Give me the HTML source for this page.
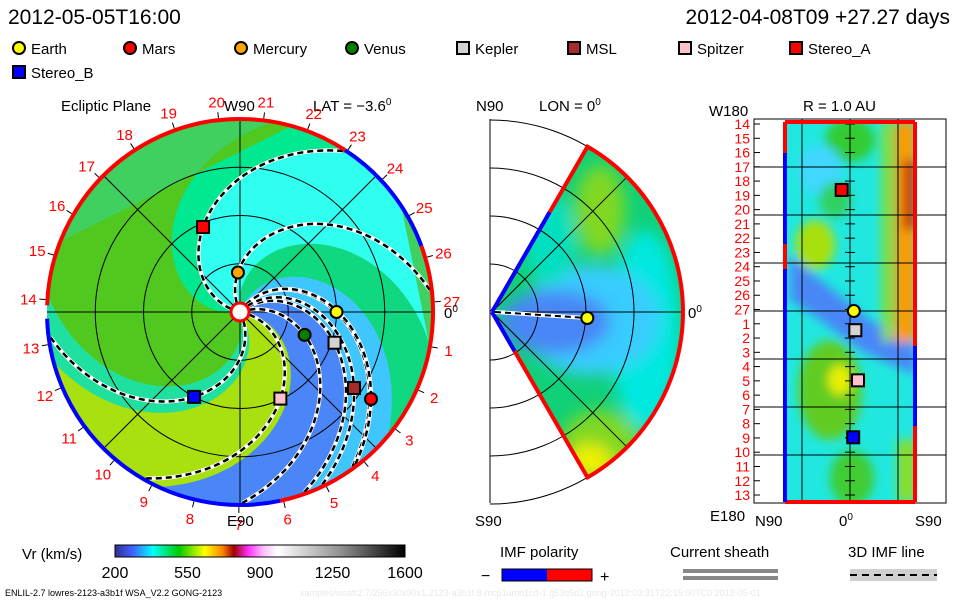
<!DOCTYPE html>
<html><head><meta charset="utf-8">
<style>
html,body{margin:0;padding:0;background:#fff;}
svg{display:block;font-family:"Liberation Sans",sans-serif;}
text{font-family:"Liberation Sans",sans-serif;}
</style></head>
<body>
<svg id="root" width="960" height="600" viewBox="0 0 960 600" xmlns="http://www.w3.org/2000/svg">
<defs>
  <clipPath id="diskClip"><circle cx="240" cy="312" r="193"/></clipPath>
  <clipPath id="wedgeClip"><path d="M492,312 L587.5,146.6 A191,191 0 0 1 587.5,477.4 Z"/></clipPath>
  <clipPath id="rectClip"><rect x="785" y="122" width="130" height="380"/></clipPath>
  <filter id="blur8"><feGaussianBlur stdDeviation="8"/></filter>
  <filter id="blur5"><feGaussianBlur stdDeviation="5"/></filter>
  <linearGradient id="cbar" x1="0" x2="1" y1="0" y2="0">
    <stop offset="0" stop-color="#303090"/>
    <stop offset="0.06" stop-color="#4060ff"/>
    <stop offset="0.13" stop-color="#00ffff"/>
    <stop offset="0.22" stop-color="#00cc00"/>
    <stop offset="0.31" stop-color="#ffff00"/>
    <stop offset="0.37" stop-color="#ff8800"/>
    <stop offset="0.41" stop-color="#a00000"/>
    <stop offset="0.46" stop-color="#ff30ff"/>
    <stop offset="0.51" stop-color="#ffbbff"/>
    <stop offset="0.56" stop-color="#ffffff"/>
    <stop offset="0.78" stop-color="#909090"/>
    <stop offset="1" stop-color="#000000"/>
  </linearGradient>
</defs>

<text x="8" y="24" font-size="21">2012-05-05T16:00</text>
<text x="950" y="24" font-size="21" text-anchor="end">2012-04-08T09 +27.27 days</text>

<g id="legend"></g>

<text x="61" y="111" font-size="15">Ecliptic Plane</text>
<text x="313" y="111" font-size="15">LAT = −3.6<tspan dy="-6" font-size="10">0</tspan></text>
<text x="476" y="111" font-size="15">N90</text>
<text x="539" y="111" font-size="15">LON = 0<tspan dy="-6" font-size="10">0</tspan></text>
<text x="709" y="116" font-size="15">W180</text>
<text x="803" y="111" font-size="15">R = 1.0 AU</text>

<g id="ecliptic"></g>
<g id="meridional"></g>
<g id="sphere"></g>

<text x="22" y="559" font-size="15">Vr (km/s)</text>
<rect x="115" y="545" width="290" height="12" fill="url(#cbar)" stroke="#000" stroke-width="1"/>
<g id="cbarTicks"></g>

<text x="500" y="557" font-size="15">IMF polarity</text>
<text x="481" y="581" font-size="16">−</text>
<rect x="502" y="569" width="45" height="12" fill="#0000ff"/>
<rect x="547" y="569" width="45" height="12" fill="#ff0000"/>
<rect x="502" y="569" width="90" height="12" fill="none" stroke="#000" stroke-width="1"/>
<text x="600" y="582" font-size="16">+</text>

<text x="670" y="557" font-size="15">Current sheath</text>
<rect x="683" y="569" width="95" height="4" fill="#888"/>
<rect x="683" y="576" width="95" height="4" fill="#888"/>

<text x="848" y="557" font-size="15">3D IMF line</text>
<rect x="850" y="569" width="87" height="12" fill="#d0d0d0"/>
<line x1="850" y1="575" x2="937" y2="575" stroke="#000" stroke-width="2" stroke-dasharray="7,5"/>

<text x="5" y="596" font-size="9">ENLIL-2.7 lowres-2123-a3b1f WSA_V2.2 GONG-2123</text>
<text x="300" y="596" font-size="9" fill="#e8e8e8">xamples/wsafr2.7/256x30x90x1.2123-a3b1f.8-mcp1umn1cd-1.g53q5d2.gong-2012:03:31T22:15:00TC0    2012-05-01</text>
</svg>

<script>
// ---- data ----
const bodyNames  = ["Earth","Mars","Mercury","Venus","Kepler","MSL","Spitzer","Stereo_A","Stereo_B"];
const bodyColors = ["#ffff00","#ff0000","#ffa500","#008000","#d3d3d3","#a52a2a","#ffc0cb","#ff0000","#0000ff"];
const bodyShapes = ["circle","circle","circle","circle","square","square","square","square","square"];
const bodyRadiusAU = [1.00, 1.63, 0.41, 0.71, 1.03, 1.42, 0.99, 0.96, 1.00];
const bodyLonDeg   = [0, -33.6, 93, -19.5, -18, -33.7, -65, 113.5, -118.4];
const bodyLatDeg   = [-3.6, 1, 2, 1, -5, -2, -7.5, 7.8, -3];
const bandEdgesDeg = [-60, -15, 15, 45, 110, 135, 230, 250, 300];
const bandColors   = ["#4a86f7","#3fc6ff","#10d880","#30fff0","#00e890","#50c820","#20e0a0","#a8e010"];
const rimPolarityStart = [57, 20, -78, 182];
const rimPolarityEnd   = [178, 57, 20, 282];
const rimPolaritySign  = [1, -1, 1, -1];
const carringtonLabels = [1,2,3,4,5,6,7,8,9,10,11,12,13,14,15,16,17,18,19,20,21,22,23,24,25,26,27];
const colorbarTicks = [200, 550, 900, 1250, 1600];
const spiralDegPerAU = 55;

const NS = "http://www.w3.org/2000/svg";
function mk(tag, attrs, parent){
  const e = document.createElementNS(NS, tag);
  for (const k in attrs) e.setAttribute(k, attrs[k]);
  if (parent) parent.appendChild(e);
  return e;
}
const D2R = Math.PI/180;
const CX = 240, CY = 312, AU = 96.5;
const ex = (r,d) => CX + r*AU*Math.cos(d*D2R);
const ey = (r,d) => CY - r*AU*Math.sin(d*D2R);
const MX = 492, MY = 312, MAU = 95.5;
const sx = lat => 850 - lat*192/180;
const sy = lon => 311 - lon*384/360;

function marker(parent, i, x, y, name){
  let e;
  if (bodyShapes[i] === "circle") {
    e = mk("circle", {cx:x, cy:y, r:6, fill:bodyColors[i], stroke:"#000", "stroke-width":2}, parent);
  } else {
    e = mk("rect", {x:x-6, y:y-6, width:12, height:12, fill:bodyColors[i], stroke:"#000", "stroke-width":2}, parent);
  }
  
  
  return e;
}

// ---- legend ----
const legend = document.getElementById("legend");
bodyNames.forEach((n,i) => {
  const row = i < 8 ? 0 : 1;
  const col = i < 8 ? i : 0;
  const x = 19 + col*111, y = 48 + row*24;
  marker(legend, i, x, y, 'legend-marker-' + n.toLowerCase());
  const t = mk("text", {x:x+12, y:y+6, "font-size":15}, legend);
  t.textContent = n;
  
  
});

// ---- ecliptic panel ----
const ecl = document.getElementById("ecliptic");
const disk = mk("g", {"clip-path":"url(#diskClip)"}, ecl);
mk("circle", {cx:CX, cy:CY, r:193, fill:"#40d060"}, disk);
for (let b = 0; b < bandColors.length; b++) {
  const a0 = bandEdgesDeg[b], a1 = bandEdgesDeg[b+1];
  const pts = [];
  for (let r = 0; r <= 2.2; r += 0.05) { const p = a0 + spiralDegPerAU*(1-r); pts.push(ex(r,p).toFixed(1)+","+ey(r,p).toFixed(1)); }
  for (let r = 2.2; r >= 0; r -= 0.05) { const p = a1 + spiralDegPerAU*(1-r); pts.push(ex(r,p).toFixed(1)+","+ey(r,p).toFixed(1)); }
  const poly = mk("polygon", {points:pts.join(" "), fill:bandColors[b]}, disk);
  
  
}
[0.5,1,1.5].forEach(r => {
  const c = mk("circle", {cx:CX, cy:CY, r:r*AU, fill:"none", stroke:"#000", "stroke-width":1}, ecl);
  
  
});
[0,45,90,135].forEach(d => {
  const l = mk("line", {x1:ex(2,d), y1:ey(2,d), x2:ex(2,d+180), y2:ey(2,d+180), stroke:"#000", "stroke-width":1}, ecl);
  
  
});
bodyNames.forEach((n,i) => {
  const pts = [];
  for (let r = 0.1; r <= 2.0; r += 0.04) { const p = bodyLonDeg[i] + spiralDegPerAU*(bodyRadiusAU[i]-r); pts.push(ex(r,p).toFixed(1)+","+ey(r,p).toFixed(1)); }
  const g = mk("g", {"clip-path":"url(#diskClip)"}, ecl);
  mk("polyline", {points:pts.join(" "), fill:"none", stroke:"#fff", "stroke-width":4}, g);
  const pl = mk("polyline", {points:pts.join(" "), fill:"none", stroke:"#000", "stroke-width":2.5, "stroke-dasharray":"6,4"}, g);
  
  
});
rimPolarityStart.forEach((s,i) => {
  const e = rimPolarityEnd[i], R = 193;
  const large = (e - s) > 180 ? 1 : 0;
  const d = `M${ex(R/AU,s)},${ey(R/AU,s)} A${R},${R} 0 ${large} 0 ${ex(R/AU,e)},${ey(R/AU,e)}`;
  const p = mk("path", {d, fill:"none", stroke: rimPolaritySign[i] > 0 ? "#ff0000" : "#0000ff", "stroke-width":4}, ecl);
  
  
});
carringtonLabels.forEach(k => {
  const a = 3 - k*360/27;
  mk("line", {x1:ex(195/AU,a), y1:ey(195/AU,a), x2:ex(201/AU,a), y2:ey(201/AU,a), stroke:"#000", "stroke-width":1}, ecl);
  const t = mk("text", {x:ex(212/AU,a), y:ey(212/AU,a)+6, "font-size":15, fill:"#ff0000", "text-anchor":"middle"}, ecl);
  t.textContent = k;
  
  
});
const sun = mk("circle", {cx:CX, cy:CY, r:9, fill:"#fff", stroke:"#ff0000", "stroke-width":3}, ecl);


bodyNames.forEach((n,i) => marker(ecl, i, ex(bodyRadiusAU[i], bodyLonDeg[i]), ey(bodyRadiusAU[i], bodyLonDeg[i]), 'ecliptic-body-' + n.toLowerCase()));
[["W90",224,111,"w90-label"],["E90",227,526,"e90-label"]].forEach(v => {
  const t = mk("text", {x:v[1], y:v[2], "font-size":15}, ecl); t.textContent = v[0];
  
  
});
const z0 = mk("text", {x:444, y:318, "font-size":15}, ecl);
z0.innerHTML = '0<tspan dy="-6" font-size="10">0</tspan>';



// ---- meridional panel ----
const mer = document.getElementById("meridional");
const wedge = mk("g", {"clip-path":"url(#wedgeClip)"}, mer);
mk("rect", {x:480, y:130, width:220, height:360, fill:"#10d078"}, wedge);
const mb = mk("g", {filter:"url(#blur8)"}, wedge);
mk("ellipse", {cx:645, cy:330, rx:35, ry:100, fill:"#00e8e0"}, mb);
mk("ellipse", {cx:590, cy:320, rx:70, ry:55, fill:"#38ccff"}, mb);
mk("ellipse", {cx:555, cy:322, rx:55, ry:32, fill:"#4a86f7"}, mb);
mk("ellipse", {cx:600, cy:210, rx:25, ry:45, fill:"#80d820"}, mb);
mk("ellipse", {cx:600, cy:445, rx:40, ry:35, fill:"#80d820"}, mb);
mk("ellipse", {cx:590, cy:462, rx:22, ry:18, fill:"#f0f000"}, mb);
mk("ellipse", {cx:550, cy:240, rx:25, ry:45, fill:"#00e0c0"}, mb);
[48,96,144,192].forEach(r => {
  const c = mk("path", {d:`M${MX-2},${MY-r} A${r},${r} 0 0 1 ${MX-2},${MY+r}`, fill:"none", stroke:"#000", "stroke-width":1}, mer);
  
  
});
[45,0,-45].forEach(d => {
  mk("line", {x1:MX, y1:MY, x2:MX+191*Math.cos(d*D2R), y2:MY-191*Math.sin(d*D2R), stroke:"#000", "stroke-width":1}, mer);
});
mk("line", {x1:490, y1:119, x2:490, y2:503, stroke:"#000", "stroke-width":1}, mer);
mk("path", {d:`M${MX},${MY} L587.5,146.6 A191,191 0 0 1 587.5,477.4 L${MX},${MY}`, fill:"none", stroke:"#ff0000", "stroke-width":4}, mer);
mk("line", {x1:MX, y1:MY, x2:MX+115*Math.cos(60*D2R), y2:MY-115*Math.sin(60*D2R), stroke:"#0000ff", "stroke-width":4}, mer);
mk("line", {x1:MX, y1:MY, x2:MX+45*Math.cos(-60*D2R), y2:MY-45*Math.sin(-60*D2R), stroke:"#0000ff", "stroke-width":4}, mer);
bodyNames.forEach((n,i) => {
  if (Math.abs(bodyLonDeg[i]) < 5) {
    const x = MX + bodyRadiusAU[i]*MAU*Math.cos(bodyLatDeg[i]*D2R), y = MY - bodyRadiusAU[i]*MAU*Math.sin(bodyLatDeg[i]*D2R);
    mk("line", {x1:MX+3, y1:MY, x2:x, y2:y, stroke:"#fff", "stroke-width":4}, mer);
    mk("line", {x1:MX+3, y1:MY, x2:x, y2:y, stroke:"#000", "stroke-width":2, "stroke-dasharray":"6,4"}, mer);
    marker(mer, i, x, y, 'meridional-body-' + n.toLowerCase());
  }
});
const mz = mk("text", {x:688, y:318, "font-size":15}, mer);
mz.innerHTML = '0<tspan dy="-6" font-size="10">0</tspan>';


const s90 = mk("text", {x:475, y:526, "font-size":15}, mer); s90.textContent = "S90";



// ---- r = 1 AU panel ----
const sph = document.getElementById("sphere");
const sg = mk("g", {"clip-path":"url(#rectClip)"}, sph);
mk("rect", {x:785, y:122, width:130, height:380, fill:"#20e8e0"}, sg);
const sb = mk("g", {filter:"url(#blur5)"}, sg);
mk("ellipse", {cx:850, cy:140, rx:25, ry:22, fill:"#30cc30"}, sb);
mk("ellipse", {cx:820, cy:170, rx:22, ry:25, fill:"#40d8ff"}, sb);
mk("ellipse", {cx:815, cy:245, rx:20, ry:25, fill:"#a8e010"}, sb);
mk("ellipse", {cx:835, cy:200, rx:16, ry:18, fill:"#30d060"}, sb);
mk("polygon", {points:"790,255 820,280 870,320 915,345 915,375 860,350 820,320 790,300", fill:"#4a86f7"}, sb);
mk("ellipse", {cx:830, cy:390, rx:32, ry:50, fill:"#60cc20"}, sb);
mk("ellipse", {cx:840, cy:380, rx:12, ry:15, fill:"#e8f000"}, sb);
mk("ellipse", {cx:852, cy:478, rx:22, ry:28, fill:"#40cc30"}, sb);
mk("rect", {x:895, y:122, width:20, height:220, fill:"#ff9900"}, sb);
mk("rect", {x:903, y:160, width:12, height:70, fill:"#d03000"}, sb);
mk("rect", {x:882, y:122, width:10, height:220, fill:"#90dc20"}, sb);
mk("rect", {x:898, y:440, width:17, height:62, fill:"#90dc20"}, sb);
mk("rect", {x:754, y:119, width:192, height:384, fill:"none", stroke:"#000", "stroke-width":1}, sph);
[802,850,898].forEach(x => mk("line", {x1:x, y1:119, x2:x, y2:503, stroke:"#000", "stroke-width":1}, sph));
[167,215,263,311,359,407,455].forEach(y => mk("line", {x1:754, y1:y, x2:946, y2:y, stroke:"#000", "stroke-width":1}, sph));
const lonLabels = [14,15,16,17,18,19,20,21,22,23,24,25,26,27,1,2,3,4,5,6,7,8,9,10,11,12,13];
lonLabels.forEach((k,j) => {
  const y = 124 + j*14.27;
  mk("line", {x1:754, y1:y, x2:760, y2:y, stroke:"#000", "stroke-width":1}, sph);
  mk("line", {x1:845, y1:y, x2:855, y2:y, stroke:"#000", "stroke-width":1}, sph);
  const t = mk("text", {x:750, y:y+5, "font-size":14, fill:"#ff0000", "text-anchor":"end"}, sph);
  t.textContent = k;
  
  
});
mk("line", {x1:785, y1:122, x2:915, y2:122, stroke:"#ff0000", "stroke-width":4}, sph);
mk("line", {x1:785, y1:502, x2:915, y2:502, stroke:"#ff0000", "stroke-width":4}, sph);
[[122,153,"#ff0000"],[153,244,"#0000ff"],[244,269,"#ff0000"],[269,502,"#0000ff"]].forEach(s => mk("line", {x1:785, y1:s[0], x2:785, y2:s[1], stroke:s[2], "stroke-width":4}, sph));
[[122,346,"#ff0000"],[346,426,"#0000ff"],[426,502,"#ff0000"]].forEach(s => mk("line", {x1:915, y1:s[0], x2:915, y2:s[1], stroke:s[2], "stroke-width":4}, sph));
bodyNames.forEach((n,i) => {
  if (Math.abs(bodyRadiusAU[i] - 1) < 0.06) marker(sph, i, sx(bodyLatDeg[i]), sy(bodyLonDeg[i]), 'map-body-' + n.toLowerCase());
});
[["E180",710,521,"e180-label"],["N90",755,526,"map-n90-label"],["S90",915,526,"map-s90-label"]].forEach(v => {
  const t = mk("text", {x:v[1], y:v[2], "font-size":15}, sph); t.textContent = v[0];
  
  
});
const sz = mk("text", {x:839, y:526, "font-size":15}, sph);
sz.innerHTML = '0<tspan dy="-6" font-size="10">0</tspan>';



// ---- colorbar ticks ----
const cbt = document.getElementById("cbarTicks");
colorbarTicks.forEach(v => {
  const x = 115 + (v - 200)/(1600 - 200)*290;
  const t = mk("text", {x:x, y:578, "font-size":16, "text-anchor":"middle"}, cbt);
  t.textContent = v;
  
  
});
</script>
</body></html>
